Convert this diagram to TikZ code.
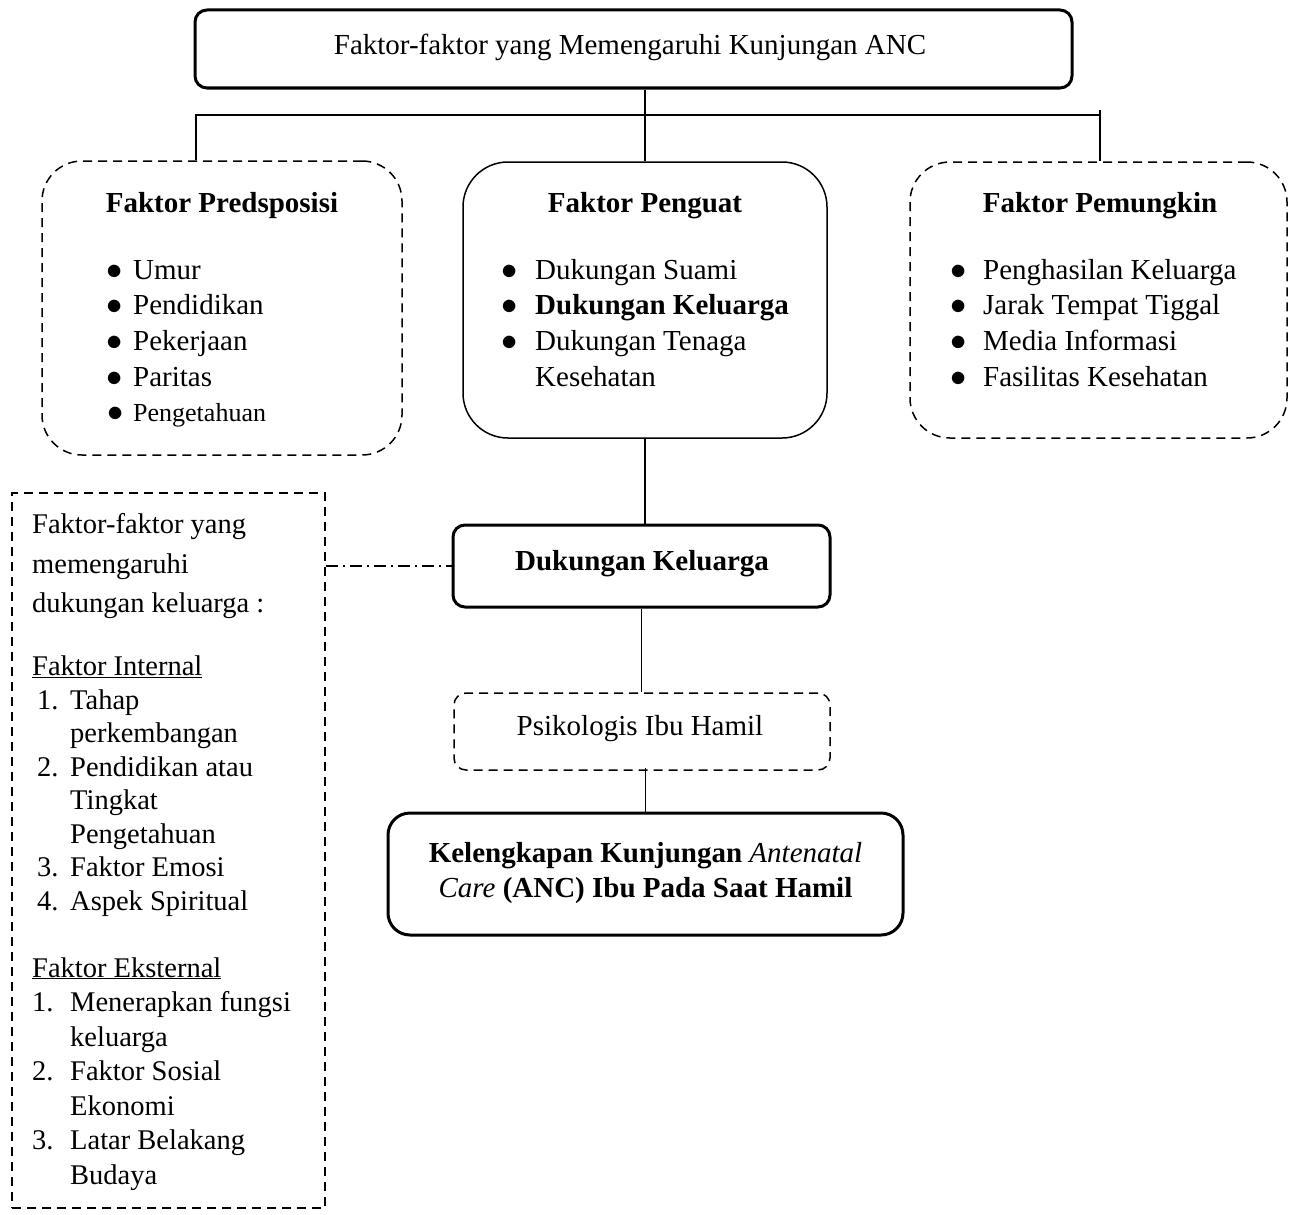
\documentclass[tikz,border=0pt]{standalone}
\usepackage{fontspec}
\setmainfont{Liberation Serif}
\usetikzlibrary{calc}
\newcommand\fsz{\fontsize{29}{35.7}\selectfont}
\newcommand\lbsz{\fontsize{28.5}{33.5}\selectfont}
\newcommand\bl[2][35pt]{\makebox[#1][l]{\scalebox{1.3}{$\bullet$}}#2}
\begin{document}
\begin{tikzpicture}[x=1pt,y=-1pt,
  thickbox/.style={draw, line width=3pt, rounded corners=12pt, inner sep=0pt},
  dashbox/.style={draw, line width=1.5pt, dash pattern=on 9pt off 6pt, inner sep=0pt},
  solidbox/.style={draw, line width=1.5pt, inner sep=0pt},
  conn/.style={line width=1.8pt},
  dashdot/.style={line width=1.5pt, dash pattern=on 12pt off 5pt on 2pt off 5pt},
  txt/.style={inner sep=0pt, font=\fsz},
  ]
\useasboundingbox (0,0) rectangle (1296,1215);

% boxes
\node[thickbox, minimum width=877pt, minimum height=78pt] (top) at (633.5,49) {};
\node[dashbox, rounded corners=40pt, minimum width=360pt, minimum height=294pt] (pre) at (222,308) {};
\node[solidbox, rounded corners=45pt, minimum width=364pt, minimum height=276pt] (pen) at (645,300) {};
\node[dashbox, rounded corners=40pt, minimum width=377pt, minimum height=276pt] (pem) at (1098.5,300) {};
\node[thickbox, minimum width=377pt, minimum height=82pt] (dk) at (641.5,566) {};
\node[dashbox, rounded corners=12pt, minimum width=376pt, minimum height=77pt] (psi) at (642,731.5) {};
\node[thickbox, rounded corners=22pt, minimum width=515pt, minimum height=122pt] (kel) at (645.5,874) {};
\node[dashbox, minimum width=313pt, minimum height=715pt] (lb) at (168.5,850.5) {};

% texts
\node[txt, anchor=base] (ttop) at (630,55) {Faktor-faktor yang Memengaruhi Kunjungan ANC};

\node[txt, anchor=base, font=\fsz\bfseries] (hpre) at (222,212) {Faktor Predsposisi};
\node[txt, anchor=base west] (lpre) at (106,279) {\begin{tabular}[t]{@{}l@{}}
\bl[27pt]{Umur}\\
\bl[27pt]{Pendidikan}\\
\bl[27pt]{Pekerjaan}\\
\bl[27pt]{Paritas}\\
{\fontsize{26}{30}\selectfont\hspace*{1pt}\bl[26pt]{Pengetahuan}}
\end{tabular}};

\node[txt, anchor=base, font=\fsz\bfseries] (hpen) at (645,212) {Faktor Penguat};
\node[txt, anchor=base west] (lpen) at (501,279) {\begin{tabular}[t]{@{}l@{}}
\bl[34pt]{Dukungan Suami}\\
\bl[34pt]{\textbf{Dukungan Keluarga}}\\
\bl[34pt]{Dukungan Tenaga}\\
\hspace*{34pt}Kesehatan
\end{tabular}};

\node[txt, anchor=base, font=\fsz\bfseries] (hpem) at (1100,212) {Faktor Pemungkin};
\node[txt, anchor=base west] (lpem) at (950,279) {\begin{tabular}[t]{@{}l@{}}
\bl[33pt]{Penghasilan Keluarga}\\
\bl[33pt]{Jarak Tempat Tiggal}\\
\bl[33pt]{Media Informasi}\\
\bl[33pt]{Fasilitas Kesehatan}
\end{tabular}};

\node[txt, anchor=base, font=\fsz\bfseries] (tdk) at (642,570) {Dukungan Keluarga};
\node[txt, anchor=base] (tpsi) at (640,735) {Psikologis Ibu Hamil};
\node[txt, anchor=base] (tkel) at (645.5,862) {\begin{tabular}[t]{@{}c@{}}
\textbf{Kelengkapan Kunjungan} \textit{Antenatal}\\
\textit{Care} \textbf{(ANC) Ibu Pada Saat Hamil}
\end{tabular}};

\node[inner sep=0pt, anchor=base west, font=\lbsz] (tlb) at (32,533) {\begin{tabular}[t]{@{}l@{}}
Faktor-faktor yang\\[6.5pt]
memengaruhi\\[6pt]
dukungan keluarga :\\[29.5pt]
\underline{Faktor Internal}\\
\hspace*{5pt}\makebox[33pt][l]{1.}Tahap\\
\hspace*{38pt}perkembangan\\
\hspace*{5pt}\makebox[33pt][l]{2.}Pendidikan atau\\
\hspace*{38pt}Tingkat\\
\hspace*{38pt}Pengetahuan\\
\hspace*{5pt}\makebox[33pt][l]{3.}Faktor Emosi\\
\hspace*{5pt}\makebox[33pt][l]{4.}Aspek Spiritual\\[33.5pt]
\underline{Faktor Eksternal}\\[1pt]
\makebox[38pt][l]{1.}Menerapkan fungsi\\[1pt]
\hspace*{38pt}keluarga\\[1pt]
\makebox[38pt][l]{2.}Faktor Sosial\\[1pt]
\hspace*{38pt}Ekonomi\\[1pt]
\makebox[38pt][l]{3.}Latar Belakang\\[1pt]
\hspace*{38pt}Budaya
\end{tabular}};

% connectors
\coordinate (busL) at (196,115);
\coordinate (busR) at (1100,115);
\coordinate (busRtop) at (1100,110);
\draw[conn] (busL |- pre.north) -- (busL) -- (busR);
\draw[conn] (busRtop) -- (busR |- pem.north);
\draw[conn] (pen.north |- top.south) -- (pen.north);
\draw[conn] (pen.south) -- (pen.south |- dk.north);
\draw[conn] (dk.south) -- (dk.south |- psi.north);
\draw[conn] ($(kel.north |- psi.south)+(0,-3)$) -- (kel.north);
\draw[dashdot] (lb.east |- dk.west) -- (dk.west);
\end{tikzpicture}
\end{document}
